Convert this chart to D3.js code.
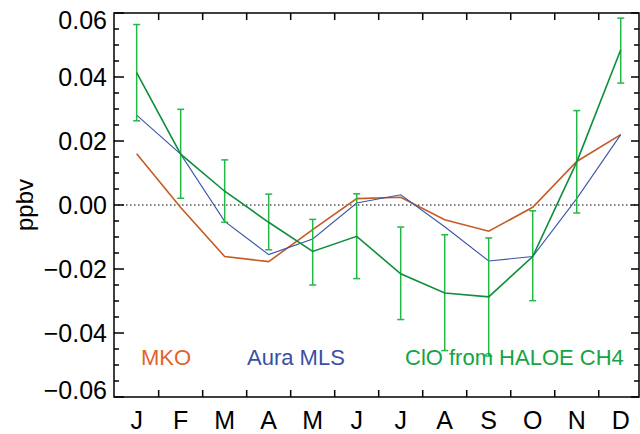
<!DOCTYPE html>
<html>
<head>
<meta charset="utf-8">
<script src="https://cdn.jsdelivr.net/npm/d3@7"></script>
<style>
  body { margin: 0; background: #fff; }
  text { font-family: "Liberation Sans", Arial, Helvetica, sans-serif; }
</style>
</head>
<body>
<script>
const months = ["J", "F", "M", "A", "M", "J", "J", "A", "S", "O", "N", "D"];
const mko = [0.0160, -0.0008, -0.0161, -0.0177, -0.0077, 0.0020, 0.0024, -0.0046, -0.0082, -0.0007, 0.0136, 0.0220];
const aura = [0.0281, 0.0159, -0.0051, -0.0155, -0.0106, 0.0006, 0.0032, -0.0068, -0.0175, -0.0161, 0.0020, 0.0220];
const clo = [0.0414, 0.0159, 0.0043, -0.0054, -0.0145, -0.0098, -0.0215, -0.0275, -0.0287, -0.0161, 0.0134, 0.0485];
const cloHi = [0.0564, 0.0299, 0.0141, 0.0034, -0.0045, 0.0035, -0.0069, -0.0093, -0.0103, -0.0018, 0.0295, 0.0584];
const cloLo = [0.0263, 0.0021, -0.0054, -0.0140, -0.0250, -0.0230, -0.0358, -0.0455, -0.0472, -0.0299, -0.0025, 0.0381];
const yTicks = [0.06, 0.04, 0.02, 0.00, -0.02, -0.04, -0.06];

const width = 640;
const height = 434;
const marginTop = 13;
const marginRight = 1;
const marginBottom = 37;
const marginLeft = 114;

const x = d3.scaleLinear()
    .domain([0.485, 12.415])
    .range([marginLeft, width - marginRight]);

const y = d3.scaleLinear()
    .domain([-0.06, 0.06])
    .range([height - marginBottom, marginTop]);

const svg = d3.select("body")
  .append("svg")
    .attr("width", width)
    .attr("height", height)
    .attr("viewBox", [0, 0, width, height]);

const idx = d3.range(1, 13);

// zero line
svg.append("line")
    .attr("x1", x.range()[0]).attr("x2", x.range()[1])
    .attr("y1", y(0)).attr("y2", y(0))
    .attr("stroke", "#000")
    .attr("stroke-width", 1.2)
    .attr("stroke-dasharray", "1.5,2.5");

const line = d3.line().x((d, i) => x(i + 1)).y(d => y(d));

svg.append("path")
    .datum(mko)
    .attr("fill", "none")
    .attr("stroke", "#c65a24")
    .attr("stroke-width", 1.6)
    .attr("d", line);

svg.append("path")
    .datum(aura)
    .attr("fill", "none")
    .attr("stroke", "#3a55a8")
    .attr("stroke-width", 1.1)
    .attr("d", line);

// error bars
const eb = svg.append("g")
    .attr("stroke", "#22b947")
    .attr("stroke-width", 1.5);

eb.selectAll("line.v")
  .data(idx)
  .join("line")
    .attr("class", "v")
    .attr("x1", i => x(i)).attr("x2", i => x(i))
    .attr("y1", i => y(cloHi[i - 1])).attr("y2", i => y(cloLo[i - 1]));

eb.selectAll("line.t")
  .data(idx)
  .join("line")
    .attr("class", "t")
    .attr("x1", i => x(i) - 3.5).attr("x2", i => x(i) + 3.5)
    .attr("y1", i => y(cloHi[i - 1])).attr("y2", i => y(cloHi[i - 1]));

eb.selectAll("line.b")
  .data(idx)
  .join("line")
    .attr("class", "b")
    .attr("x1", i => x(i) - 3.5).attr("x2", i => x(i) + 3.5)
    .attr("y1", i => y(cloLo[i - 1])).attr("y2", i => y(cloLo[i - 1]));

svg.append("path")
    .datum(clo)
    .attr("fill", "none")
    .attr("stroke", "#0e8f3c")
    .attr("stroke-width", 1.6)
    .attr("d", line);

// frame
svg.append("rect")
    .attr("x", x.range()[0])
    .attr("y", y.range()[1])
    .attr("width", x.range()[1] - x.range()[0])
    .attr("height", y.range()[0] - y.range()[1])
    .attr("fill", "none")
    .attr("stroke", "#000")
    .attr("stroke-width", 1.5);

// x ticks (month boundaries) top and bottom
const xb = d3.range(1.5, 12, 1);
const tk = svg.append("g").attr("stroke", "#000").attr("stroke-width", 1.5);
tk.selectAll("line.xb")
  .data(xb)
  .join("line")
    .attr("x1", d => x(d)).attr("x2", d => x(d))
    .attr("y1", y.range()[0]).attr("y2", y.range()[0] - 7);
tk.selectAll("line.xt")
  .data(xb)
  .join("line")
    .attr("x1", d => x(d)).attr("x2", d => x(d))
    .attr("y1", y.range()[1]).attr("y2", y.range()[1] + 7);

// y ticks left and right
const yMinor = d3.range(-0.06, 0.0601, 0.005);
tk.selectAll("line.yl")
  .data(yMinor)
  .join("line")
    .attr("x1", x.range()[0])
    .attr("x2", (d, i) => x.range()[0] + (i % 4 === 0 ? 10 : 5))
    .attr("y1", d => y(d)).attr("y2", d => y(d));
tk.selectAll("line.yr")
  .data(yMinor)
  .join("line")
    .attr("x1", x.range()[1])
    .attr("x2", (d, i) => x.range()[1] - (i % 4 === 0 ? 8 : 5))
    .attr("y1", d => y(d)).attr("y2", d => y(d));

// y tick labels
svg.append("g")
    .attr("font-size", 25)
    .attr("text-anchor", "end")
  .selectAll("text")
  .data(yTicks)
  .join("text")
    .attr("x", 107)
    .attr("y", d => y(d) + (d === 0.06 ? 7 : d === -0.06 ? -7 : 0))
    .attr("dy", "0.36em")
    .text(d => d3.format(".2f")(d));

// month labels
svg.append("g")
    .attr("font-size", 25)
    .attr("text-anchor", "middle")
  .selectAll("text")
  .data(months)
  .join("text")
    .attr("x", (d, i) => x(i + 1))
    .attr("y", 429)
    .text(d => d);

// y axis label
svg.append("text")
    .attr("font-size", 24)
    .attr("text-anchor", "middle")
    .attr("transform", "translate(33,205) rotate(-90)")
    .text("ppbv");

// legend
const legend = svg.append("g").attr("font-size", 22);
legend.append("text").attr("x", 141).attr("y", 365).attr("fill", "#e2622a").text("MKO");
legend.append("text").attr("x", 247).attr("y", 365).attr("fill", "#3a4fa3").text("Aura MLS");
legend.append("text").attr("x", 405).attr("y", 365).attr("fill", "#12a544").text("ClO from HALOE CH4");
</script>
</body>
</html>
